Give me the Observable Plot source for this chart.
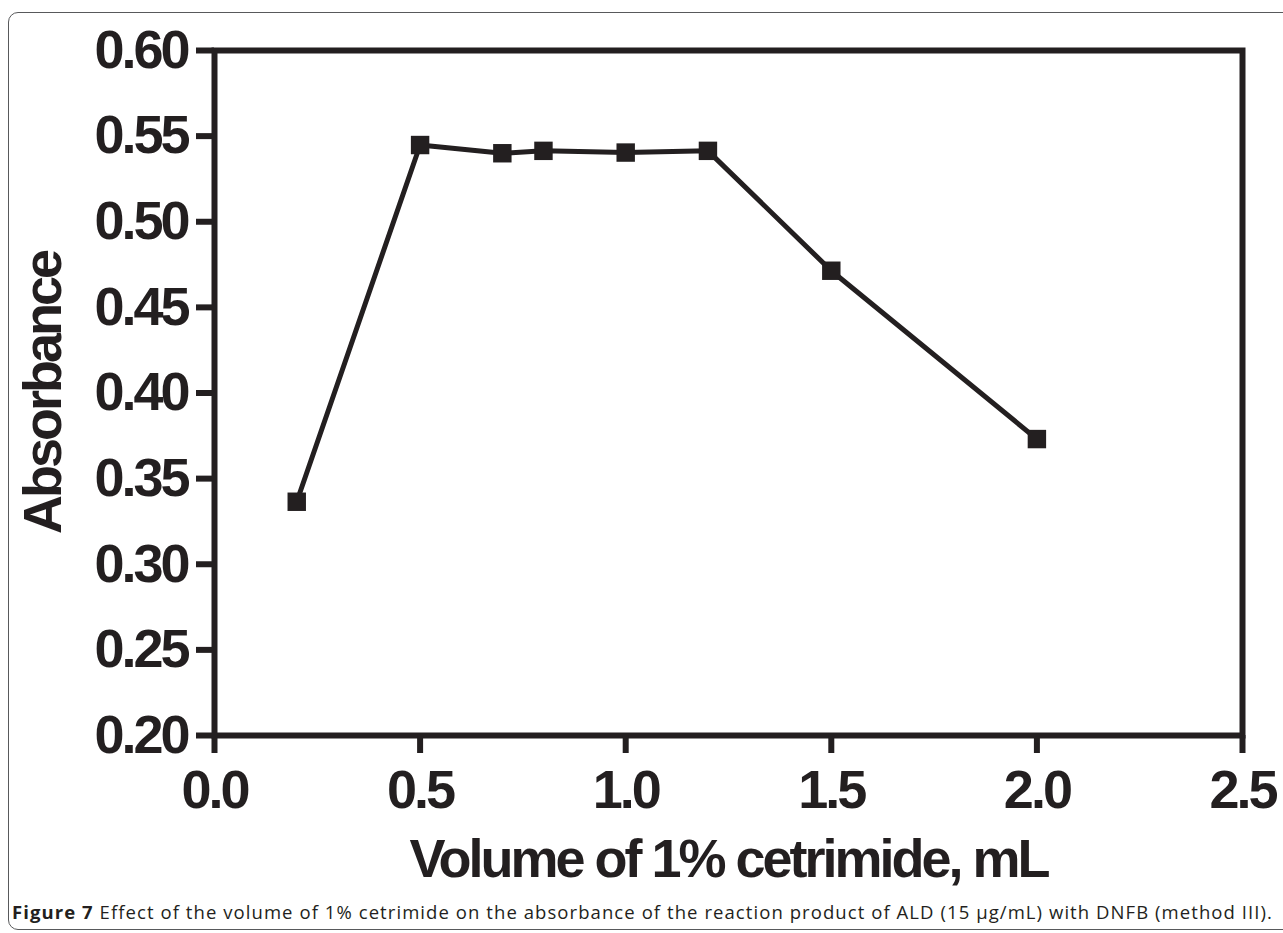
<!DOCTYPE html>
<html><head><meta charset="utf-8">
<script src="https://cdn.jsdelivr.net/npm/d3@7"></script>
<script src="https://cdn.jsdelivr.net/npm/@observablehq/plot@0.6"></script>
<style>
body{margin:0;background:#fff;width:1283px;height:933px;overflow:hidden;position:relative;}
#chart{position:absolute;left:0;top:0;}
#border{position:absolute;left:8px;top:12px;width:1300px;height:918px;border:1.5px solid #58595b;border-radius:10px;box-sizing:border-box;pointer-events:none;}
#caption{position:absolute;left:12px;top:899px;font-family:"Open Sans";font-size:18.5px;color:#231f20;white-space:nowrap;}
</style></head><body>
<div id="chart"></div>
<div id="border"></div>
<div id="caption"><b>Figure 7</b> Effect of the volume of 1% cetrimide on the absorbance of the reaction product of ALD (15 µg/mL) with DNFB (method III).</div>
<script>
const volume = [0.2, 0.5, 0.7, 0.8, 1.0, 1.2, 1.5, 2.0];
const absorbance = [0.3365, 0.5448, 0.5400, 0.5414, 0.5404, 0.5414, 0.4714, 0.3731];
const xTicks = [0.0, 0.5, 1.0, 1.5, 2.0, 2.5];
const yTicks = [0.20, 0.25, 0.30, 0.35, 0.40, 0.45, 0.50, 0.55, 0.60];
const xLabel = "Volume of 1% cetrimide, mL";
const yLabel = "Absorbance";

const data = volume.map((v, i) => ({volume: v, absorbance: absorbance[i]}));
const ink = "#231f20";

const plot = Plot.plot({
  width: 1283,
  height: 933,
  marginLeft: 214,
  marginRight: 41,
  marginTop: 50,
  marginBottom: 198,
  style: {fontFamily: "'Liberation Sans', Arial, sans-serif", fontWeight: "bold", color: ink, background: "white", letterSpacing: "-3px"},
  x: {domain: [0, 2.5]},
  y: {domain: [0.20, 0.60]},
  marks: [
    Plot.frame({stroke: ink, strokeWidth: 6}),
    Plot.axisX({ticks: xTicks, tickFormat: d3.format(".1f"), tickSize: 18, tickPadding: 16, fontSize: 54, strokeWidth: 6, stroke: ink, fill: ink, label: null}),
    Plot.axisY({ticks: yTicks, tickFormat: d3.format(".2f"), tickSize: 18, tickPadding: 9, fontSize: 54, strokeWidth: 6, stroke: ink, fill: ink, label: null}),
    Plot.line(data, {x: "volume", y: "absorbance", stroke: ink, strokeWidth: 5}),
    Plot.dot(data, {x: "volume", y: "absorbance", symbol: "square", r: 10.4, fill: ink, stroke: "none"}),
    Plot.text([xLabel], {frameAnchor: "bottom", dy: 141, fontSize: 54, fill: ink, text: d => d}),
    Plot.text([yLabel], {frameAnchor: "left", dx: -171, rotate: -90, textAnchor: "middle", fontSize: 54, fill: ink, text: d => d})
  ]
});
document.getElementById("chart").appendChild(plot);

// stretch caption to the reference's line length (x 12 to 1273)
const cap = document.getElementById("caption");
const chars = cap.textContent.length;
const w = cap.getBoundingClientRect().width;
cap.style.letterSpacing = ((1261 - w) / chars) + "px";
</script>
</body></html>
